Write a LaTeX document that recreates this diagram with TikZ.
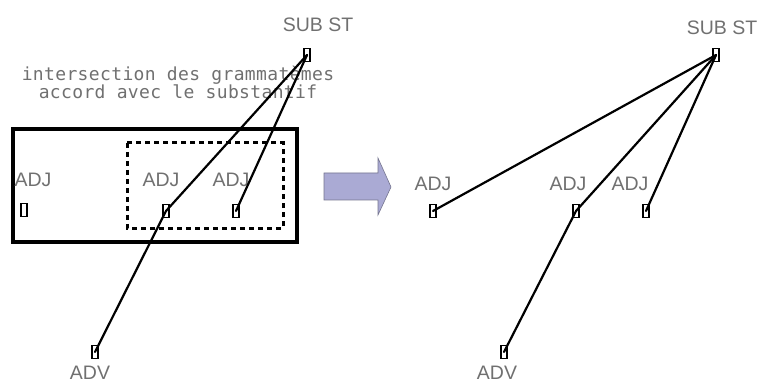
\documentclass[tikz,border=0pt]{standalone}
\usepackage{fontspec}
\setmainfont{Liberation Sans}
\newfontfamily\cadmono[LetterSpace=2]{DejaVu Sans Mono}
\definecolor{labelgray}{HTML}{707070}
\definecolor{arrowfill}{HTML}{AAAAD4}
\definecolor{arrowdraw}{HTML}{75758F}
\begin{document}
\begin{tikzpicture}[x=1pt,y=-1pt,
  lbl/.style={text=labelgray, font=\fontsize{19.5}{23}\selectfont, inner sep=0, anchor=base},
  note/.style={text=labelgray, font=\cadmono\fontsize{18}{18}\selectfont, inner sep=0, anchor=base},
  pin/.style={draw=black, line width=1.2pt, minimum width=6pt, minimum height=13pt, inner sep=0},
  link/.style={line width=2.2pt, line cap=round}]
\useasboundingbox (0,0) rectangle (760,382);

% ---------- left panel ----------
\draw[line width=3.2pt] (13,129) rectangle (297,242);
\draw[line width=3pt, dash pattern=on 5pt off 4pt] (127,143) rectangle (283,228);

\node[lbl] (lsubl) at (318,32) {SUB ST};
\node[note] (t1) at (178,81) {intersection des grammatèmes};
\node[note] (t2) at (178,99) {accord avec le substantif};

\node[lbl] (la1l) at (33,187) {ADJ};
\node[lbl] (la2l) at (161,187) {ADJ};
\node[lbl] (la3l) at (231,187) {ADJ};
\node[lbl] (ladvl) at (90,379) {ADV};

\node[pin] (ls) at (307,55) {};
\node[pin] (la1) at (24,210) {};
\node[pin] (la2) at (166,211) {};
\node[pin] (la3) at (236,211) {};
\node[pin] (ladv) at (95,352) {};

\draw[link] (ls.center) -- (la2.center) -- (ladv.center);
\draw[link] (ls.center) -- (la3.center);

% ---------- arrow ----------
\draw[fill=arrowfill, draw=arrowdraw, line width=0.6pt]
  (324,173) -- (378,173) -- (378,158) -- (391,187) -- (378,215) -- (378,200) -- (324,200) -- cycle;

% ---------- right panel ----------
\node[lbl] (rsubl) at (722,35) {SUB ST};
\node[lbl] (ra1l) at (433,191) {ADJ};
\node[lbl] (ra2l) at (568,191) {ADJ};
\node[lbl] (ra3l) at (630,191) {ADJ};
\node[lbl] (radvl) at (497,379) {ADV};

\node[pin] (rs) at (716,55) {};
\node[pin] (ra1) at (433,211) {};
\node[pin] (ra2) at (576,211) {};
\node[pin] (ra3) at (646,211) {};
\node[pin] (radv) at (504,352) {};

\draw[link] (rs.center) -- (ra1.center);
\draw[link] (rs.center) -- (ra2.center) -- (radv.center);
\draw[link] (rs.center) -- (ra3.center);
\end{tikzpicture}
\end{document}
